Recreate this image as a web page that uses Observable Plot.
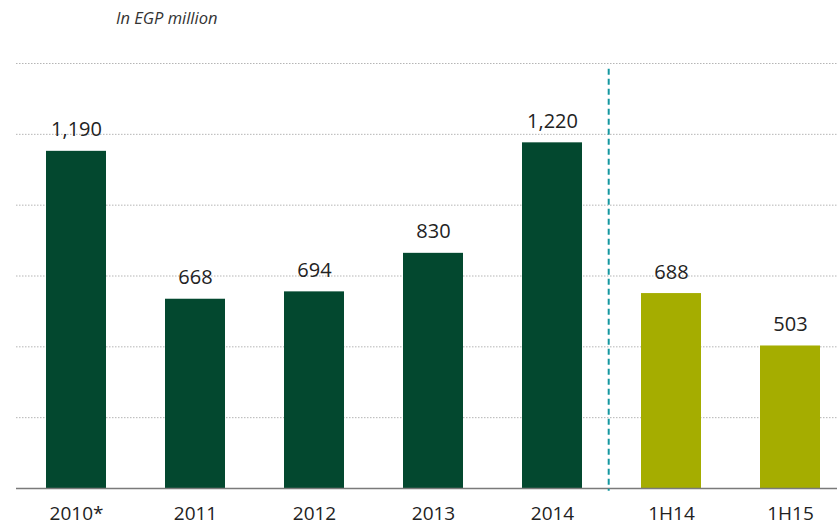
<!DOCTYPE html>
<html>
<head>
<meta charset="utf-8">
<script src="https://cdn.jsdelivr.net/npm/d3@7"></script>
<script src="https://cdn.jsdelivr.net/npm/@observablehq/plot@0.6"></script>
<style>
  body { margin: 0; background: #fff; font-family: "Open Sans", sans-serif; }
  #title { height: 40px; box-sizing: border-box; padding: 7px 0 0 116px; font-style: italic; font-size: 16.5px; color: #333; line-height: 22px; }
</style>
</head>
<body>
<div id="title">In EGP million</div>
<div id="chart"></div>
<script>
const categories = ["2010*", "2011", "2012", "2013", "2014", "1H14", "1H15"];
const values = [1190, 668, 694, 830, 1220, 688, 503];
const groups = ["year", "year", "year", "year", "year", "half", "half"];
const gridTicks = [250, 500, 750, 1000, 1250, 1500];

const data = categories.map((c, i) => ({category: c, value: values[i], group: groups[i]}));

const plot = Plot.plot({
  width: 837,
  height: 485,
  marginTop: 23,
  marginBottom: 37,
  marginLeft: 16,
  marginRight: 0,
  style: {fontFamily: "Open Sans", fontSize: "19px", color: "#222", background: "#fff"},
  x: {domain: categories, paddingInner: 0.4965, paddingOuter: 0.193, align: 0.64, label: null},
  y: {domain: [0, 1500], axis: null},
  color: {domain: ["year", "half"], range: ["#03482f", "#a5ad00"]},
  marks: [
    Plot.ruleY(gridTicks, {stroke: "#b5b5b5", strokeDasharray: "1.5,1.5", strokeWidth: 1}),
    Plot.barY(data, {x: "category", y: "value", fill: "group"}),
    Plot.ruleY([0], {stroke: "#7a7a7a", strokeWidth: 1.5}),
    Plot.text(data, {x: "category", y: "value", text: d => d3.format(",")(d.value), lineAnchor: "bottom", dy: -15, fill: "#222", fontSize: 20}),
    Plot.ruleX(["1H14"], {x: d => d, dx: -62.8, y1: 1480, y2: -10, stroke: "#1497a0", strokeWidth: 2, strokeDasharray: "6,4"}),
    Plot.axisX({tickSize: 0, tickPadding: 18, fontSize: 19, fill: "#222", label: null})
  ]
});
document.getElementById("chart").appendChild(plot);
</script>
</body>
</html>
